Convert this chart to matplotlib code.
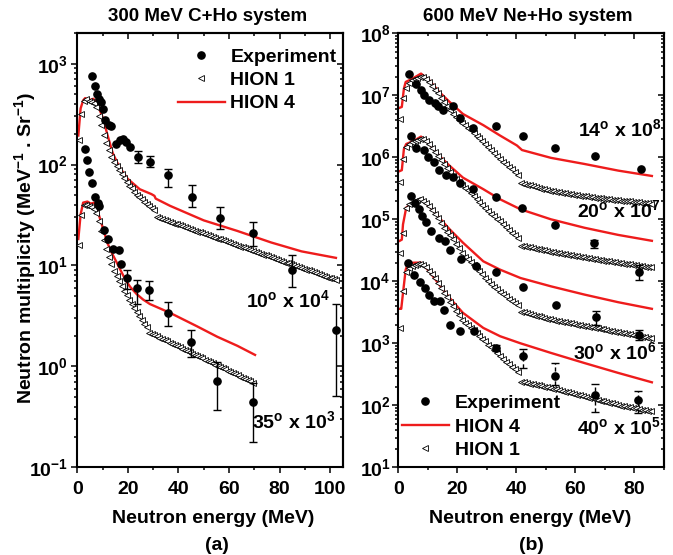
import numpy as np
import matplotlib
matplotlib.use('Agg')
import matplotlib.pyplot as plt
from matplotlib.ticker import MultipleLocator, LogLocator, FuncFormatter, NullFormatter
from matplotlib.lines import Line2D

plt.rcParams['font.family'] = ['Liberation Sans', 'DejaVu Sans']
plt.rcParams['font.weight'] = 'bold'
plt.rcParams['mathtext.fontset'] = 'custom'
for k in ['rm', 'it', 'bf', 'sf']:
    plt.rcParams['mathtext.' + k] = 'Liberation Sans:bold'

RED = '#ee1c1c'

# ---------------- panel (a): 300 MeV C+Ho ----------------
# 10 deg x 1e4 : experiment
a10_exp_e = [6.0, 7.1, 7.7, 8.7, 9.3, 10.0, 11.1, 12.4, 13.3, 15.3, 16.7, 18.0, 19.1, 20.7,
             24.0, 28.7, 35.7, 45.3, 56.3, 69.3, 84.9, 102.3]
a10_exp_v = [754, 600, 495, 449, 416, 352, 278, 248, 239, 160, 176, 180, 169, 149,
             118, 107, 78, 48, 29.5, 20.8, 9.1, 2.3]
a10_bar_e = [24.0, 28.7, 35.7, 45.3, 56.3, 69.3, 84.9, 102.3]
a10_bar_lo = [103, 95, 60, 37.7, 23, 15.7, 6.1, 0.51]
a10_bar_hi = [135.5, 123, 90.5, 63, 37.7, 26.7, 12.8, 4.2]
# 10 deg HION 4
a10_h4_e = [0.4, 1.3, 2.3, 3.1, 4.7, 6.3, 7.6, 10.0, 12.0, 14.0, 16.7, 20.0, 24.7, 29.3,
            30.5, 31.0, 36.7, 50.0, 63.3, 76.7, 88.7, 102.3]
a10_h4_v = [194, 360, 433, 456, 433, 449, 416, 295, 194, 130, 94, 72, 57, 51,
            49, 46, 39, 28, 22, 16.9, 13.8, 11.9]
# 10 deg HION 1 (E = 0.5 ... 102.5 MeV)
a10_h1_e = np.arange(0.5, 103.0, 1.0)
a10_h1_v = [175, 320, 430, 445, 425, 415, 410, 370, 305, 245,
            197, 165, 140, 120, 106, 96, 88, 81, 74, 67,
            62, 58, 54, 50.5, 48, 45.5, 43, 41, 39, 37,
            35.5,
            29.9, 29.3, 28.7, 28.2, 27.6, 27.1, 26.5, 26.0, 25.5, 25.0,
            24.5, 24.0, 23.5, 23.0, 22.6, 22.1, 21.7, 21.3, 20.8, 20.4,
            20.0, 19.6, 19.2, 18.8, 18.5, 18.1, 17.7, 17.4, 17.0, 16.7,
            16.4, 16.0, 15.7, 15.4, 15.1, 14.8, 14.5, 14.2, 13.9, 13.6,
            13.4, 13.1, 12.8, 12.6, 12.3, 12.1, 11.8, 11.6, 11.4, 11.1,
            10.9, 10.7, 10.5, 10.3, 10.1, 9.88, 9.68, 9.49, 9.30, 9.11,
            8.93, 8.75, 8.58, 8.41, 8.24, 8.07, 7.91, 7.75, 7.60, 7.45,
            7.30, 7.15]

# 35 deg x 1e3 : experiment
a35_exp_e = [3.1, 4.0, 4.7, 6.0, 7.1, 8.0, 8.7, 10.7, 12.0, 14.0, 16.4, 17.3, 19.6,
             23.6, 28.4, 35.7, 45.0, 55.3, 69.3]
a35_exp_v = [143, 110, 84, 65, 48, 42, 39, 22.4, 18.4, 14.6, 14.3, 10.4, 7.5,
             6.0, 5.7, 3.4, 1.73, 0.72, 0.44]
a35_bar_e = [19.6, 23.6, 28.4, 35.7, 45.0, 55.3, 69.3]
a35_bar_lo = [5.9, 4.2, 4.5, 2.5, 1.23, 0.37, 0.18]
a35_bar_hi = [9.1, 7.2, 7.0, 4.3, 2.3, 1.1, 0.69]
a35_h4_e = [0.4, 1.3, 2.3, 4.0, 5.3, 6.7, 8.0, 10.0, 12.0, 14.0, 16.0, 18.0, 19.5, 21.0,
            23.5, 26.0, 28.7, 36.6, 47.3, 55.3, 63.3, 70.3]
a35_h4_v = [18.3, 32, 42, 43, 41, 42, 35, 24, 16.5, 12.8, 10.2, 8.1, 6.9, 6.1,
            5.2, 4.6, 4.15, 3.4, 2.5, 1.97, 1.6, 1.3]
a35_h1_e = np.arange(0.5, 70.0, 1.0)
a35_h1_v = [16, 32, 40, 40, 39, 38, 36.5, 33, 27.5, 22,
            17.8, 14.6, 12.2, 10.3, 8.8, 7.8, 7.0, 6.2, 5.6, 5.1,
            4.6, 4.2, 3.8, 3.45, 3.15, 2.9, 2.65, 2.45, 2.15, 2.09,
            2.03, 1.98, 1.92, 1.87, 1.82, 1.77, 1.72, 1.67, 1.63, 1.58,
            1.54, 1.50, 1.46, 1.42, 1.38, 1.34, 1.30, 1.27, 1.23, 1.20,
            1.17, 1.13, 1.10, 1.07, 1.04, 1.02, 0.99, 0.96, 0.94, 0.91,
            0.89, 0.86, 0.84, 0.82, 0.79, 0.77, 0.75, 0.73, 0.71, 0.69]

# ---------------- panel (b): 600 MeV Ne+Ho ----------------
b_h1_e = np.arange(0.5, 86.0, 1.0)

b14_exp_e = [3.7, 5.9, 7.7, 8.8, 10.5, 12.6, 13.4, 15.3, 18.5, 21.0, 25.4, 33.0, 42.3, 53.1, 66.7, 82.1]
b14_exp_v = [2.24e7, 1.55e7, 1.21e7, 1.0e7, 8.3e6, 7.5e6, 6.6e6, 5.9e6, 6.6e6, 4.3e6,
             3.0e6, 3.2e6, 2.24e6, 1.42e6, 1.06e6, 6.5e5]
b14_h4_e = [0.5, 1.2, 1.9, 2.5, 4.8, 7.7, 10.5, 13.9, 17.4, 21.9, 28.8, 34.5, 40.2, 41.9,
            51.7, 63.1, 74.5, 85.9]
b14_h4_v = [6.3e6, 6.5e6, 1.28e7, 1.64e7, 1.86e7, 2.24e7, 1.75e7, 1.13e7, 7.8e6, 5.0e6,
            3.3e6, 2.24e6, 1.55e6, 1.31e6, 9.8e5, 7.8e5, 6.1e5, 5.0e5]
b14_h1_v = [4.17e6, 8.9e6, 1.29e7, 1.58e7, 1.78e7, 1.84e7, 1.91e7, 2.0e7, 2.0e7, 1.82e7,
            1.62e7, 1.41e7, 1.23e7, 1.07e7, 9.1e6, 7.85e6, 6.76e6, 5.82e6, 5.05e6, 4.47e6,
            3.98e6, 3.63e6, 3.27e6, 2.99e6, 2.72e6, 2.48e6, 2.24e6, 2.02e6, 1.82e6, 1.62e6,
            1.46e6, 1.30e6, 1.17e6, 1.05e6, 9.44e5, 8.51e5, 7.67e5, 7.0e5, 6.38e5, 5.82e5,
            5.25e5, 3.89e5, 3.76e5, 3.63e5, 3.51e5, 3.39e5, 3.30e5, 3.20e5, 3.11e5, 3.03e5,
            2.95e5, 2.88e5, 2.83e5, 2.78e5, 2.73e5, 2.68e5, 2.63e5, 2.58e5, 2.54e5, 2.49e5,
            2.45e5, 2.42e5, 2.38e5, 2.34e5, 2.31e5, 2.28e5, 2.24e5, 2.21e5, 2.18e5, 2.15e5,
            2.12e5, 2.10e5, 2.07e5, 2.05e5, 2.03e5, 2.0e5, 1.98e5, 1.96e5, 1.94e5, 1.91e5,
            1.89e5, 1.87e5, 1.85e5, 1.83e5, 1.81e5, 1.79e5]

b20_exp_e = [4.2, 5.9, 8.8, 10.2, 12.2, 13.9, 16.2, 18.5, 21.0, 25.4, 33.0, 41.9, 53.1, 66.3, 81.6]
b20_exp_v = [2.24e6, 1.42e6, 1.31e6, 1.0e6, 8.5e5, 6.2e5, 5.2e5, 4.9e5, 3.9e5, 3.1e5,
             2.3e5, 1.55e5, 8.1e4, 4.1e4, 1.42e4]
b20_bar_e = [66.3, 81.6]
b20_bar_lo = [3.5e4, 1.06e4]
b20_bar_hi = [4.7e4, 1.86e4]
b20_h4_e = [0.5, 1.2, 1.9, 2.7, 5.4, 7.7, 10.5, 13.9, 17.4, 21.9, 28.8, 34.5, 41.4,
            51.7, 63.1, 74.5, 85.9]
b20_h4_v = [6.0e5, 6.2e5, 1.36e6, 1.64e6, 1.86e6, 2.16e6, 1.64e6, 1.06e6, 7.3e5, 4.7e5,
            3.06e5, 2.1e5, 1.45e5, 1.0e5, 7.3e4, 5.6e4, 4.5e4]
b20_h1_v = [3.98e5, 9.55e5, 1.45e6, 1.62e6, 1.74e6, 1.82e6, 1.91e6, 1.97e6, 1.95e6, 1.80e6,
            1.62e6, 1.41e6, 1.23e6, 1.06e6, 9.12e5, 7.85e5, 6.76e5, 5.82e5, 5.05e5, 4.47e5,
            3.98e5, 3.59e5, 3.24e5, 2.92e5, 2.63e5, 2.34e5, 2.11e5, 1.88e5, 1.70e5, 1.51e5,
            1.36e5, 1.23e5, 1.12e5, 1.02e5, 9.33e4, 8.51e4, 7.59e4, 6.76e4, 6.10e4, 5.50e4,
            4.95e4, 3.76e4, 3.67e4, 3.59e4, 3.51e4, 3.43e4, 3.36e4, 3.29e4, 3.22e4, 3.16e4,
            3.09e4, 3.02e4, 2.96e4, 2.90e4, 2.84e4, 2.79e4, 2.73e4, 2.67e4, 2.62e4, 2.57e4,
            2.52e4, 2.47e4, 2.43e4, 2.38e4, 2.34e4, 2.31e4, 2.27e4, 2.23e4, 2.20e4, 2.16e4,
            2.13e4, 2.09e4, 2.06e4, 2.03e4, 2.0e4, 1.96e4, 1.93e4, 1.90e4, 1.87e4, 1.84e4,
            1.81e4, 1.78e4, 1.75e4, 1.73e4, 1.70e4, 1.67e4]

b30_exp_e = [4.2, 5.7, 7.1, 8.0, 9.4, 11.1, 13.7, 15.7, 17.4, 21.1, 26.3, 33.0, 42.1, 53.4, 66.9, 81.6]
b30_exp_v = [2.4e5, 1.86e5, 1.45e5, 1.13e5, 9.2e4, 6.5e4, 5.0e4, 4.4e4, 3.2e4, 2.3e4,
             1.75e4, 1.42e4, 8.0e3, 4.1e3, 2.66e3, 1.38e3]
b30_bar_e = [66.9, 81.6]
b30_bar_lo = [2.0e3, 1.15e3]
b30_bar_hi = [3.3e3, 1.66e3]
b30_h4_e = [0.5, 1.2, 1.6, 2.7, 5.4, 7.7, 10.5, 13.9, 17.4, 21.9, 28.8, 34.5, 41.4,
            51.7, 63.1, 74.5, 85.9]
b30_h4_v = [4.5e4, 4.7e4, 8.3e4, 1.55e5, 1.86e5, 2.1e5, 1.64e5, 1.06e5, 6.9e4, 4.2e4,
            2.1e4, 1.54e4, 1.13e4, 8.3e3, 6.1e3, 4.6e3, 3.6e3]
b30_h1_v = [2.82e4, 6.03e4, 1.51e5, 1.74e5, 1.86e5, 1.95e5, 2.04e5, 2.09e5, 2.0e5, 1.82e5,
            1.62e5, 1.41e5, 1.23e5, 1.05e5, 8.71e4, 7.33e4, 6.31e4, 5.50e4, 4.74e4, 3.98e4,
            3.39e4, 2.85e4, 2.51e4, 2.26e4, 2.04e4, 1.82e4, 1.64e4, 1.45e4, 1.29e4, 1.15e4,
            1.01e4, 9.12e3, 8.22e3, 7.41e3, 6.76e3, 6.17e3, 5.69e3, 5.25e3, 4.84e3, 4.47e3,
            4.12e3, 3.24e3, 3.14e3, 3.05e3, 2.96e3, 2.87e3, 2.79e3, 2.72e3, 2.64e3, 2.57e3,
            2.50e3, 2.43e3, 2.38e3, 2.33e3, 2.28e3, 2.23e3, 2.19e3, 2.14e3, 2.10e3, 2.06e3,
            2.01e3, 1.97e3, 1.93e3, 1.89e3, 1.85e3, 1.82e3, 1.78e3, 1.74e3, 1.71e3, 1.67e3,
            1.64e3, 1.60e3, 1.57e3, 1.54e3, 1.51e3, 1.48e3, 1.45e3, 1.42e3, 1.39e3, 1.36e3,
            1.33e3, 1.30e3, 1.28e3, 1.25e3, 1.22e3, 1.20e3]

b40_exp_e = [3.4, 5.4, 7.4, 9.1, 10.5, 12.2, 14.2, 15.4, 17.6, 20.8, 25.7, 33.1, 42.1, 53.1, 66.5, 81.1]
b40_exp_v = [1.98e4, 1.28e4, 9.6e3, 7.8e3, 6.1e3, 4.9e3, 4.9e3, 3.4e3, 2.0e3, 1.56e3,
             1.56e3, 850, 620, 300, 148, 120]
b40_bar_e = [33.1, 42.1, 53.1, 66.5, 81.1]
b40_bar_lo = [760, 395, 212, 79, 75]
b40_bar_hi = [950, 800, 475, 218, 170]
b40_h4_e = [0.5, 1.0, 1.6, 2.5, 3.4, 5.9, 7.7, 10.5, 13.9, 17.4, 21.9, 28.8, 34.5, 41.4,
            51.7, 63.1, 74.5, 85.9]
b40_h4_v = [3.6e3, 3.6e3, 6.5e3, 1.54e4, 1.98e4, 2.0e4, 2.0e4, 1.45e4, 8.8e3, 5.4e3,
            3.1e3, 1.77e3, 1.3e3, 1.0e3, 700, 480, 333, 235]
b40_h1_v = [1.78e3, 7.08e3, 1.41e4, 1.66e4, 1.78e4, 1.84e4, 1.88e4, 1.91e4, 1.82e4, 1.68e4,
            1.48e4, 1.32e4, 1.15e4, 9.44e3, 7.76e3, 6.46e3, 5.50e3, 4.62e3, 3.95e3, 3.35e3,
            2.85e3, 2.40e3, 2.14e3, 1.95e3, 1.78e3, 1.62e3, 1.47e3, 1.32e3, 1.19e3, 1.07e3,
            955, 861, 776, 692, 624, 556, 507, 462, 422, 385,
            347, 240, 234, 229, 224, 219, 214, 209, 204, 200,
            195, 191, 185, 180, 175, 171, 166, 161, 157, 153,
            149, 145, 141, 137, 133, 129, 126, 122, 119, 116,
            113, 110, 107, 104, 101, 98.9, 96.8, 94.8, 92.9, 91.0,
            89.1, 87.3, 85.5, 83.8, 82.0, 80.4]

# ---------------- drawing ----------------
fig = plt.figure(figsize=(6.73, 5.55), dpi=100)
axA = fig.add_axes([0.1149, 0.158, 0.3944, 0.782])
axB = fig.add_axes([0.5918, 0.158, 0.3948, 0.782])

EXP_KW = dict(ls='none', marker='o', color='black', markersize=5.2, zorder=5)
H1_KW = dict(ls='none', marker='<', mfc='white', mec='black', markersize=4.4, mew=0.6, zorder=3)
H4_KW = dict(color=RED, lw=1.7, zorder=2)
BAR_KW = dict(fmt='none', ecolor='black', elinewidth=1.0, capsize=3.2, capthick=1.0, zorder=4)


def bars(ax, e, lo, hi, dashed=False):
    lo = np.asarray(lo, float)
    hi = np.asarray(hi, float)
    c = ax.errorbar(e, lo, yerr=[np.zeros_like(lo), hi - lo], **BAR_KW)
    if dashed:
        for lc in c[2]:
            lc.set_linestyle((0, (3, 2)))


# panel a
axA.plot(a10_h4_e, a10_h4_v, **H4_KW)
axA.plot(a35_h4_e, a35_h4_v, **H4_KW)
axA.plot(a10_h1_e, a10_h1_v, **H1_KW)
axA.plot(a35_h1_e, a35_h1_v, **H1_KW)
bars(axA, a10_bar_e, a10_bar_lo, a10_bar_hi)
bars(axA, a35_bar_e, a35_bar_lo, a35_bar_hi)
axA.plot(a10_exp_e, a10_exp_v, **EXP_KW)
axA.plot(a35_exp_e, a35_exp_v, **EXP_KW)

# panel b
for h4e, h4v, h1v in [(b14_h4_e, b14_h4_v, b14_h1_v), (b20_h4_e, b20_h4_v, b20_h1_v),
                      (b30_h4_e, b30_h4_v, b30_h1_v), (b40_h4_e, b40_h4_v, b40_h1_v)]:
    axB.plot(h4e, h4v, **H4_KW)
    axB.plot(b_h1_e, h1v, **H1_KW)
bars(axB, b20_bar_e, b20_bar_lo, b20_bar_hi)
bars(axB, b30_bar_e, b30_bar_lo, b30_bar_hi)
bars(axB, b40_bar_e, b40_bar_lo, b40_bar_hi, dashed=True)
for ee, vv in [(b14_exp_e, b14_exp_v), (b20_exp_e, b20_exp_v), (b30_exp_e, b30_exp_v), (b40_exp_e, b40_exp_v)]:
    axB.plot(ee, vv, **EXP_KW)

TICK_FS = 14


def style(ax, xmax, ylo, yhi, ypad):
    ax.set_yscale('log')
    ax.set_xlim(0, xmax)
    ax.set_ylim(ylo, yhi)
    ax.xaxis.set_major_locator(MultipleLocator(20))
    ax.xaxis.set_minor_locator(MultipleLocator(10))
    ax.yaxis.set_major_locator(LogLocator(base=10, numticks=20))
    ax.yaxis.set_minor_locator(LogLocator(base=10, subs=np.arange(2, 10), numticks=20))
    ax.yaxis.set_minor_formatter(NullFormatter())
    ax.yaxis.set_major_formatter(FuncFormatter(lambda v, p: r'$10^{%d}$' % int(round(np.log10(v)))))
    ax.xaxis.set_major_formatter(FuncFormatter(lambda v, p: '%d' % v))
    for s in ax.spines.values():
        s.set_linewidth(1.5)
    ax.tick_params(which='both', direction='out', top=False, right=False, labelsize=TICK_FS, width=1.1)
    ax.tick_params(which='major', length=4.5)
    ax.tick_params(which='minor', length=2.5)
    ax.tick_params(axis='x', pad=5)
    ax.tick_params(axis='y', pad=ypad)
    sx = ax.secondary_xaxis('top')
    sx.xaxis.set_major_locator(MultipleLocator(20))
    sx.xaxis.set_minor_locator(MultipleLocator(10))
    sx.tick_params(which='both', direction='in', labeltop=False, width=1.1)
    sx.tick_params(which='major', length=4.5)
    sx.tick_params(which='minor', length=2.5)
    sy = ax.secondary_yaxis('right')
    sy.yaxis.set_major_locator(LogLocator(base=10, numticks=20))
    sy.yaxis.set_minor_locator(LogLocator(base=10, subs=np.arange(2, 10), numticks=20))
    sy.tick_params(which='both', direction='in', labelright=False, width=1.1)
    sy.tick_params(which='major', length=4.5)
    sy.tick_params(which='minor', length=2.5)
    for s in list(sx.spines.values()) + list(sy.spines.values()):
        s.set_linewidth(1.5)


style(axA, 105, 0.1, 2000, 2)
style(axB, 90, 10, 1e8, 1)

# legends
exp_h = Line2D([], [], ls='none', marker='o', color='black', markersize=5.2)
h1_h = Line2D([], [], ls='none', marker='<', mfc='white', mec='black', markersize=4.4, mew=0.6)
h4_h = Line2D([], [], color=RED, lw=1.7)
LEG_KW = dict(frameon=False, fontsize=14, handlelength=2.4, handletextpad=0.3,
              borderpad=0, borderaxespad=0, labelspacing=0.3, numpoints=1, loc='center left')
axA.legend([exp_h, h1_h, h4_h], ['Experiment', 'HION 1', 'HION 4'],
           bbox_to_anchor=(0.379, 0.892), **LEG_KW)
axB.legend([exp_h, h4_h, h1_h], ['Experiment', 'HION 4', 'HION 1'],
           bbox_to_anchor=(0.014, 0.0935), **LEG_KW)

# annotations
ANN_KW = dict(fontsize=14, ha='center', va='center')
axA.text(0.792, 0.385, r'$10^{o}$ x $10^{4}$', transform=axA.transAxes, **ANN_KW)
axA.text(0.817, 0.107, r'$35^{o}$ x $10^{3}$', transform=axA.transAxes, **ANN_KW)
axB.text(0.833, 0.78, r'$14^{o}$ x $10^{8}$', transform=axB.transAxes, **ANN_KW)
axB.text(0.83, 0.593, r'$20^{o}$ x $10^{7}$', transform=axB.transAxes, **ANN_KW)
axB.text(0.814, 0.265, r'$30^{o}$ x $10^{6}$', transform=axB.transAxes, **ANN_KW)
axB.text(0.83, 0.092, r'$40^{o}$ x $10^{5}$', transform=axB.transAxes, **ANN_KW)

# titles and labels
fig.text(0.309, 0.970, '300 MeV C+Ho system', ha='center', va='center', fontsize=13.5)
fig.text(0.7845, 0.970, '600 MeV Ne+Ho system', ha='center', va='center', fontsize=13.5)
fig.text(0.3175, 0.0649, 'Neutron energy (MeV)', ha='center', va='center', fontsize=14)
fig.text(0.788, 0.0649, 'Neutron energy (MeV)', ha='center', va='center', fontsize=14)
fig.text(0.323, 0.018, '(a)', ha='center', va='center', fontsize=14)
fig.text(0.789, 0.018, '(b)', ha='center', va='center', fontsize=14)
fig.text(0.037, 0.553, r'Neutron multiplicity (MeV$^{-1}$ . Sr$^{-1}$)', rotation=90,
         ha='center', va='center', fontsize=14)

fig.savefig('out.png', dpi=100)
